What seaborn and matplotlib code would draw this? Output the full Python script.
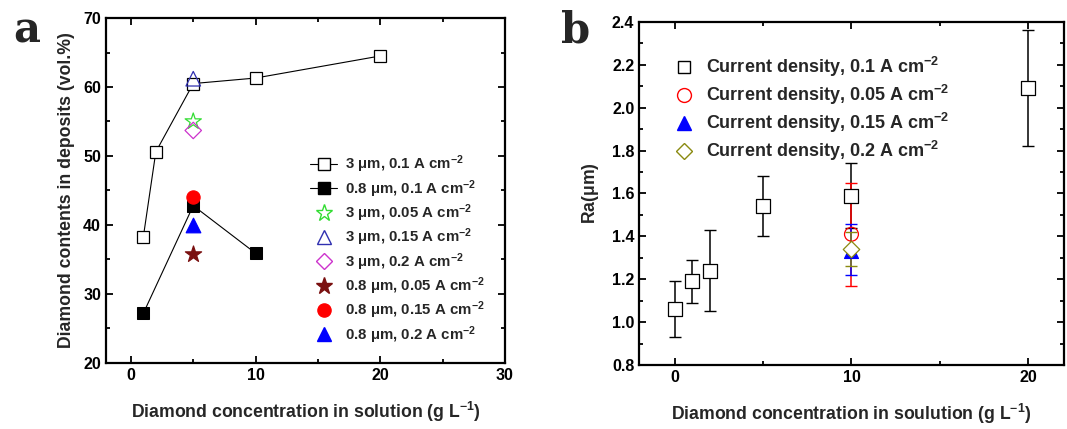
import matplotlib
matplotlib.use("Agg")
import matplotlib.pyplot as plt
import seaborn as sns
import pandas as pd
from matplotlib.ticker import MultipleLocator
from matplotlib.lines import Line2D

# %% - podaci, panel a
conc_3um = [1, 2, 5, 10, 20]
cont_3um = [38.3, 50.6, 60.5, 61.3, 64.5]
conc_08um = [1, 5, 10]
cont_08um = [27.2, 42.8, 35.9]

single_labels = [
    r"3 $\mathbf{\mu}$m, 0.05 A cm$^{\mathbf{-2}}$",
    r"3 $\mathbf{\mu}$m, 0.15 A cm$^{\mathbf{-2}}$",
    r"3 $\mathbf{\mu}$m, 0.2 A cm$^{\mathbf{-2}}$",
    r"0.8 $\mathbf{\mu}$m, 0.05 A cm$^{\mathbf{-2}}$",
    r"0.8 $\mathbf{\mu}$m, 0.15 A cm$^{\mathbf{-2}}$",
    r"0.8 $\mathbf{\mu}$m, 0.2 A cm$^{\mathbf{-2}}$",
]
single_x = [5, 5, 5, 5, 5, 5]
single_y = [55.0, 61.2, 53.7, 35.8, 44.1, 40.0]

# %% - podaci, panel b
ra_x = [0, 1, 2, 5, 10, 20]
ra_y = [1.06, 1.19, 1.24, 1.54, 1.59, 2.09]
ra_lo = [0.93, 1.09, 1.05, 1.40, 1.44, 1.82]
ra_hi = [1.19, 1.29, 1.43, 1.68, 1.74, 2.36]

other_labels = [
    r"Current density, 0.05 A cm$^{\mathbf{-2}}$",
    r"Current density, 0.15 A cm$^{\mathbf{-2}}$",
    r"Current density, 0.2 A cm$^{\mathbf{-2}}$",
]
other_x = [10, 10, 10]
other_y = [1.41, 1.33, 1.34]
other_lo = [1.17, 1.22, 1.26]
other_hi = [1.65, 1.46, 1.42]

# %% - stil
sns.set_style("ticks")
plt.rcParams["font.family"] = ["Liberation Sans", "DejaVu Sans"]
plt.rcParams["font.weight"] = "bold"
plt.rcParams["axes.labelweight"] = "bold"
plt.rcParams["mathtext.fontset"] = "custom"
plt.rcParams["mathtext.rm"] = "Liberation Sans:bold"
plt.rcParams["mathtext.bf"] = "Liberation Sans:bold"
plt.rcParams["mathtext.it"] = "Liberation Sans:bold"
plt.rcParams["mathtext.default"] = "bf"

fig = plt.figure(figsize=(10.67, 4.29), dpi=100)
ax1 = fig.add_axes([0.0993, 0.154, 0.374, 0.804])
ax2 = fig.add_axes([0.599, 0.149, 0.398, 0.800])


def style_axes(ax):
    for s in ax.spines.values():
        s.set_linewidth(1.6)
        s.set_color("black")
    ax.tick_params(which="both", direction="in", top=True, right=True,
                   width=1.3, labelsize=11.5, colors="black")
    ax.tick_params(which="major", length=5)
    ax.tick_params(which="minor", length=3)
    for lab in ax.get_xticklabels() + ax.get_yticklabels():
        lab.set_fontweight("bold")


# %% - panel a
df3 = pd.DataFrame({"x": conc_3um, "y": cont_3um})
df08 = pd.DataFrame({"x": conc_08um, "y": cont_08um})
sns.lineplot(data=df3, x="x", y="y", ax=ax1, color="black", lw=0.8,
             marker="s", markersize=9, markerfacecolor="white",
             markeredgecolor="black", markeredgewidth=0.9)
sns.lineplot(data=df08, x="x", y="y", ax=ax1, color="black", lw=0.8,
             marker="s", markersize=9, markerfacecolor="black",
             markeredgecolor="black")

single_marker = ["*", "^", "D", "*", "o", "^"]
single_face = ["none", "none", "none", "#7a1010", "red", "blue"]
single_edge = ["#33dd33", "#3030b0", "#cc33cc", "#7a1010", "red", "blue"]
single_size = [150, 110, 70, 150, 90, 110]
for i in range(len(single_x)):
    sns.scatterplot(x=[single_x[i]], y=[single_y[i]], ax=ax1,
                    marker=single_marker[i], s=single_size[i],
                    facecolor=single_face[i], edgecolor=single_edge[i],
                    linewidth=0.9, zorder=4)

ax1.set_xlim(-2, 30)
ax1.set_ylim(20, 70)
ax1.xaxis.set_major_locator(MultipleLocator(10))
ax1.xaxis.set_minor_locator(MultipleLocator(5))
ax1.yaxis.set_major_locator(MultipleLocator(10))
ax1.yaxis.set_minor_locator(MultipleLocator(5))
ax1.set_xlabel(r"Diamond concentration in solution (g L$^{\mathbf{-1}}$)",
               fontsize=12.7, labelpad=12)
ax1.set_ylabel("Diamond contents in deposits (vol.%)", fontsize=12.7,
               labelpad=6)
style_axes(ax1)

handles_a = [
    Line2D([], [], color="black", lw=0.8, marker="s", markersize=9,
           markerfacecolor="white", markeredgecolor="black"),
    Line2D([], [], color="black", lw=0.8, marker="s", markersize=9,
           markerfacecolor="black", markeredgecolor="black"),
]
for i in range(len(single_x)):
    handles_a.append(Line2D([], [], ls="none", marker=single_marker[i],
                            markersize=single_size[i] ** 0.5,
                            markerfacecolor=single_face[i],
                            markeredgecolor=single_edge[i]))
labels_a = [r"3 $\mathbf{\mu}$m, 0.1 A cm$^{\mathbf{-2}}$",
            r"0.8 $\mathbf{\mu}$m, 0.1 A cm$^{\mathbf{-2}}$"] + single_labels
ax1.legend(handles_a, labels_a, loc="lower right", frameon=False,
           fontsize=10.8, handlelength=1.8, handletextpad=0.5,
           labelspacing=0.18, borderpad=0.2, bbox_to_anchor=(0.975, 0.02))

# %% - panel b
ax2.errorbar(ra_x, ra_y, yerr=[[y - l for y, l in zip(ra_y, ra_lo)],
                               [h - y for y, h in zip(ra_y, ra_hi)]],
             fmt="none", ecolor="black", elinewidth=1.1, capsize=4, zorder=2)
other_col = ["red", "blue", "#8a8a10"]
for i in range(len(other_x)):
    ax2.errorbar([other_x[i]], [other_y[i]],
                 yerr=[[other_y[i] - other_lo[i]], [other_hi[i] - other_y[i]]],
                 fmt="none", ecolor=other_col[i], elinewidth=1.1,
                 capsize=4, zorder=2)

sns.scatterplot(x=ra_x, y=ra_y, ax=ax2, marker="s", s=90,
                facecolor="white", edgecolor="black", linewidth=0.9, zorder=4)
other_marker = ["o", "^", "D"]
other_face = ["none", "blue", "white"]
other_size = [100, 100, 70]
for i in range(len(other_x)):
    sns.scatterplot(x=[other_x[i]], y=[other_y[i]], ax=ax2,
                    marker=other_marker[i], s=other_size[i],
                    facecolor=other_face[i], edgecolor=other_col[i],
                    linewidth=0.9, zorder=5 + i)

ax2.set_xlim(-2, 22)
ax2.set_ylim(0.8, 2.4)
ax2.xaxis.set_major_locator(MultipleLocator(10))
ax2.xaxis.set_minor_locator(MultipleLocator(5))
ax2.yaxis.set_major_locator(MultipleLocator(0.2))
ax2.yaxis.set_minor_locator(MultipleLocator(0.1))
ax2.set_xlabel(r"Diamond concentration in soulution (g L$^{\mathbf{-1}}$)",
               fontsize=12.7, labelpad=12)
ax2.set_ylabel(r"Ra($\mathbf{\mu}$m)", fontsize=12.7, labelpad=8)
style_axes(ax2)

handles_b = [Line2D([], [], ls="none", marker="s", markersize=9,
                    markerfacecolor="white", markeredgecolor="black")]
for i in range(len(other_x)):
    handles_b.append(Line2D([], [], ls="none", marker=other_marker[i],
                            markersize=other_size[i] ** 0.5,
                            markerfacecolor=other_face[i],
                            markeredgecolor=other_col[i]))
labels_b = [r"Current density, 0.1 A cm$^{\mathbf{-2}}$"] + other_labels
ax2.legend(handles_b, labels_b, loc="upper left", frameon=False,
           fontsize=13, handlelength=1.2, handletextpad=0.6,
           labelspacing=0.22, borderpad=0.2, bbox_to_anchor=(0.05, 0.94))

# oznake panela
fig.text(0.012, 0.90, "a", fontsize=30, fontweight="bold", family="DejaVu Serif")
fig.text(0.526, 0.90, "b", fontsize=30, fontweight="bold", family="DejaVu Serif")

fig.savefig("out.png", dpi=100)
